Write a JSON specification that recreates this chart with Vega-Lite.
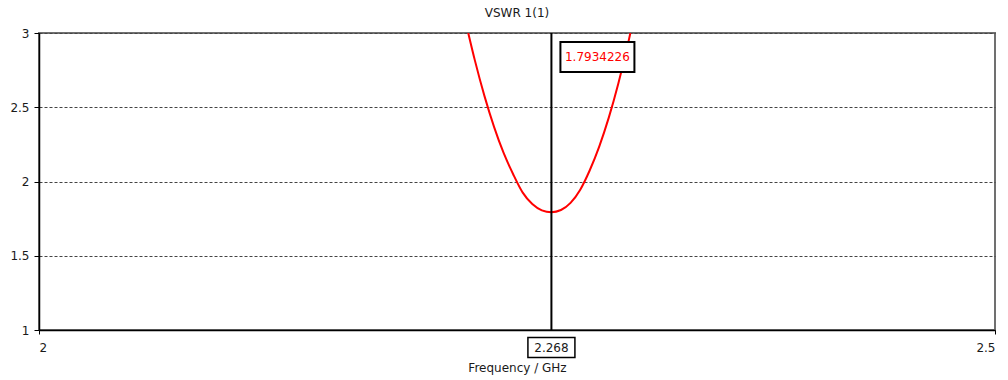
{
  "$schema": "https://vega.github.io/schema/vega-lite/v6.json",
  "width": 956,
  "height": 297,
  "autosize": {"type": "none"},
  "padding": {"left": 39, "top": 33, "right": 13, "bottom": 50},
  "background": "white",
  "title": {
    "text": "VSWR 1(1)",
    "font": "DejaVu Sans",
    "fontSize": 12,
    "fontWeight": "normal",
    "color": "#1a1a1a",
    "anchor": "middle",
    "baseline": "alphabetic",
    "offset": -2
  },
  "config": {
    "font": "DejaVu Sans",
    "view": {"stroke": "#707070", "strokeWidth": 2}
  },
  "datasets": {
    "vswr": [
      {"f": 2.2245, "v": 3.0},
      {"f": 2.228, "v": 2.814},
      {"f": 2.233, "v": 2.575},
      {"f": 2.238, "v": 2.368},
      {"f": 2.243, "v": 2.192},
      {"f": 2.248, "v": 2.049},
      {"f": 2.253, "v": 1.925},
      {"f": 2.258, "v": 1.848},
      {"f": 2.263, "v": 1.806},
      {"f": 2.268, "v": 1.7934226},
      {"f": 2.273, "v": 1.808},
      {"f": 2.278, "v": 1.856},
      {"f": 2.283, "v": 1.943},
      {"f": 2.288, "v": 2.074},
      {"f": 2.293, "v": 2.235},
      {"f": 2.298, "v": 2.43},
      {"f": 2.303, "v": 2.66},
      {"f": 2.308, "v": 2.925},
      {"f": 2.3093, "v": 3.0}
    ],
    "marker": [
      {"f": 2.268, "v": 1.7934226}
    ]
  },
  "layer": [
    {
      "data": {"name": "vswr"},
      "mark": {
        "type": "line",
        "color": "#ff0000",
        "strokeWidth": 2,
        "interpolate": "monotone",
        "clip": true
      },
      "encoding": {
        "x": {
          "field": "f",
          "type": "quantitative",
          "scale": {"domain": [2, 2.5], "nice": false, "zero": false},
          "axis": {
            "values": [2, 2.5],
            "format": "~g",
            "title": "Frequency / GHz",
            "grid": false,
            "domainColor": "#000000",
            "domainWidth": 1.5,
            "tickColor": "#000000",
            "tickSize": 4,
            "labelFontSize": 12,
            "labelColor": "#1a1a1a",
            "labelPadding": 8,
            "titleFontSize": 12,
            "titleFontWeight": "normal",
            "titleColor": "#1a1a1a",
            "titlePadding": 9
          }
        },
        "y": {
          "field": "v",
          "type": "quantitative",
          "scale": {"domain": [1, 3], "nice": false, "zero": false},
          "axis": {
            "values": [1, 1.5, 2, 2.5, 3],
            "format": "~g",
            "title": null,
            "grid": true,
            "gridColor": "#444444",
            "gridDash": [3, 2],
            "gridWidth": 1,
            "domainColor": "#000000",
            "domainWidth": 1.5,
            "tickColor": "#000000",
            "tickSize": 5,
            "labelFontSize": 12,
            "labelColor": "#1a1a1a",
            "labelPadding": 5
          }
        }
      }
    },
    {
      "data": {"name": "marker"},
      "mark": {"type": "rule", "color": "#000000", "strokeWidth": 2},
      "encoding": {
        "x": {"field": "f", "type": "quantitative"}
      }
    },
    {
      "data": {"name": "marker"},
      "mark": {
        "type": "point",
        "shape": "M-1,-0.4054L1,-0.4054L1,0.4054L-1,0.4054Z",
        "size": 5476,
        "filled": true,
        "fill": "#ffffff",
        "stroke": "#000000",
        "strokeWidth": 2,
        "opacity": 1,
        "xOffset": 46,
        "yOffset": 24
      },
      "encoding": {
        "x": {"field": "f", "type": "quantitative"},
        "y": {"datum": 3, "type": "quantitative"}
      }
    },
    {
      "data": {"name": "marker"},
      "mark": {
        "type": "text",
        "color": "#ff0000",
        "fontSize": 12,
        "align": "center",
        "baseline": "middle",
        "xOffset": 46,
        "yOffset": 24
      },
      "encoding": {
        "x": {"field": "f", "type": "quantitative"},
        "y": {"datum": 3, "type": "quantitative"},
        "text": {"field": "v", "type": "quantitative", "format": ".7f"}
      }
    },
    {
      "data": {"name": "marker"},
      "mark": {
        "type": "point",
        "shape": "M-1,-0.4255L1,-0.4255L1,0.4255L-1,0.4255Z",
        "size": 2209,
        "filled": true,
        "fill": "#ffffff",
        "stroke": "#000000",
        "strokeWidth": 1.5,
        "opacity": 1,
        "yOffset": 17.6
      },
      "encoding": {
        "x": {"field": "f", "type": "quantitative"},
        "y": {"datum": 1, "type": "quantitative"}
      }
    },
    {
      "data": {"name": "marker"},
      "mark": {
        "type": "text",
        "color": "#1a1a1a",
        "fontSize": 12,
        "align": "center",
        "baseline": "middle",
        "yOffset": 17.6
      },
      "encoding": {
        "x": {"field": "f", "type": "quantitative"},
        "y": {"datum": 1, "type": "quantitative"},
        "text": {"field": "f", "type": "quantitative", "format": ".3f"}
      }
    }
  ]
}
